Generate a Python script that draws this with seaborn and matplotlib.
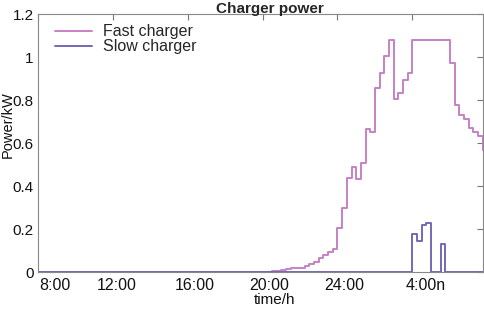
import numpy as np
import pandas as pd
import matplotlib
matplotlib.use("Agg")
import matplotlib.pyplot as plt
import matplotlib.transforms as mtransforms
import seaborn as sns

# 15-minute steps, step 1 = 8:00
fast_charger = [0.0] * 49 + [
    0.003, 0.005, 0.008, 0.012, 0.016, 0.021, 0.021, 0.022, 0.030, 0.040,
    0.050, 0.066, 0.080, 0.096, 0.107, 0.204, 0.297, 0.437, 0.488, 0.432,
    0.506, 0.664, 0.650, 0.855, 0.927, 1.005, 1.080, 0.805, 0.834, 0.893,
    0.924, 1.080, 1.080, 1.080, 1.080, 1.080, 1.080, 1.080, 1.080, 0.974,
    0.777, 0.731, 0.712, 0.669, 0.653, 0.633, 0.570]
slow_charger = [0.0] * 80 + [0.178, 0.145, 0.218, 0.230, 0.0, 0.0, 0.131] + [0.0] * 9

time_ticks = [1, 17, 33, 49, 65, 81]
time_labels = ['8:00', '12:00', '16:00', '20:00', '24:00', '4:00n']
label_shift_px = [17, 4, 7, 7, 7, 13]

steps = np.arange(1, 97)
df = pd.DataFrame({
    'step': np.concatenate([steps, steps]),
    'power': fast_charger + slow_charger,
    'charger': ['Fast charger'] * 96 + ['Slow charger'] * 96,
})

sns.set_theme(style='white')
plt.rcParams['font.family'] = ['Liberation Sans', 'DejaVu Sans']

fig = plt.figure(figsize=(4.84, 3.10), dpi=100)
ax = fig.add_axes([37.7 / 484, 1 - 272.3 / 310, 445 / 484, 258.3 / 310])

sns.lineplot(data=df, x='step', y='power', hue='charger',
             palette={'Fast charger': '#C682C6', 'Slow charger': '#7468B4'},
             drawstyle='steps-post', linewidth=1.4, ax=ax, legend=True)

ax.set_xlim(1, 96)
ax.set_ylim(0, 1.2)
ax.set_xticks(time_ticks)
ax.set_xticklabels(time_labels)
ax.set_yticks([0, 0.2, 0.4, 0.6, 0.8, 1.0, 1.2])
ax.set_yticklabels(['0', '0.2', '0.4', '0.6', '0.8', '1', '1.2'])
ax.tick_params(direction='in', length=4, width=0.8, color='#777777',
               top=True, right=True, labelsize=11.5, labelcolor='#111111', pad=4)
ax.tick_params(axis='y', labelsize=11, pad=3)
for lab, dx in zip(ax.get_xticklabels(), label_shift_px):
    lab.set_transform(lab.get_transform() +
                      mtransforms.ScaledTranslation(dx / 100, 0, fig.dpi_scale_trans))
for sp in ax.spines.values():
    sp.set_color('#888888')
    sp.set_linewidth(0.8)

ax.set_xlabel('time/h', fontsize=11, color='#111111')
ax.xaxis.set_label_coords(0.533, -0.08)
ax.set_ylabel('Power/kW', fontsize=10.5, color='#111111')
ax.yaxis.set_label_coords(-0.052, 0.57)
ax.set_title('Charger power', fontsize=11, fontweight='bold', x=0.522, pad=1)

leg = ax.legend(loc='upper left', frameon=False, fontsize=11.5, handlelength=2.3,
                handletextpad=0.7, labelspacing=0.0, borderaxespad=0,
                bbox_to_anchor=(0.025, 0.985))

fig.savefig('out.png', dpi=100)
